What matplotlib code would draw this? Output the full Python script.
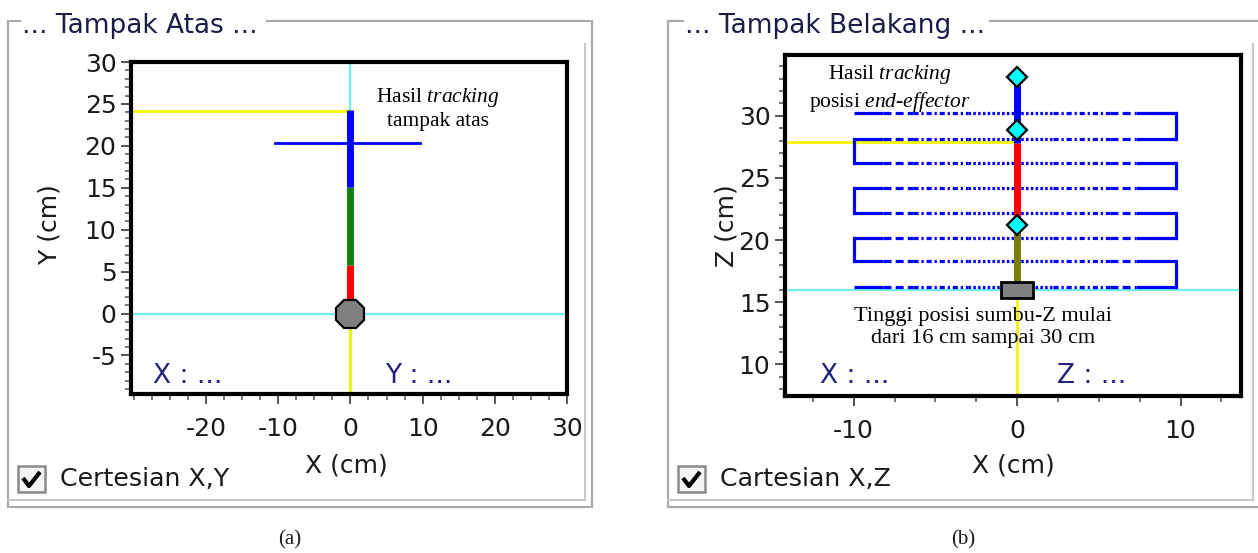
import numpy as np
import matplotlib
matplotlib.use("Agg")
import matplotlib.pyplot as plt
from matplotlib.patches import Rectangle
from matplotlib.ticker import MultipleLocator

plt.rcParams['font.family'] = ['DejaVu Sans']
plt.rcParams['axes.unicode_minus'] = False
plt.rcParams['mathtext.fontset'] = 'custom'
plt.rcParams['mathtext.rm'] = 'Liberation Serif'
plt.rcParams['mathtext.it'] = 'Liberation Serif:italic'

# ------------------------------------------------------------------ data
# (a) Tampak Atas  (top view, X-Y)
top_xticks = [-20, -10, 0, 10, 20, 30]
top_yticks = [-5, 0, 5, 10, 15, 20, 25, 30]
top_xlim = (-30.4, 30.0)
top_ylim = (-9.6, 30.0)
top_base = (0.0, 0.0)
top_link_y = [0.0, 5.8, 15.1, 24.3]          # link segment boundaries along Y
top_cursor_y = 24.1
top_cross_y = 20.3
top_cross_x = [-10.5, 9.7]

# (b) Tampak Belakang (back view, X-Z)
back_xticks = [-10, 0, 10]
back_yticks = [10, 15, 20, 25, 30]
back_xlim = (-14.2, 13.7)
back_ylim = (7.45, 34.9)
back_base = (0.0, 16.0)
back_link_z = [16.0, 21.2, 27.8, 33.1]
back_joint_z = [33.1, 28.9, 21.2]
back_cursor_z = 27.9
raster_z = [30.2, 28.1, 26.2, 24.2, 22.2, 20.2, 18.3, 16.2]
raster_x = [-10.0, 9.7]

# ------------------------------------------------------------------ styles
W, H, DPI = 1258, 553, 100
TXT = '#1a1a1a'
NAVY = '#22227a'
CYAN = '#74eef6'
YELLOW = '#f4f400'
BLUE = '#0000ff'
SERIF = 'Liberation Serif'

def px_rect(l, t, r, b):
    return [l / W, 1 - b / H, (r - l) / W, (b - t) / H]

fig = plt.figure(figsize=(W / DPI, H / DPI), dpi=DPI)
fig.patch.set_facecolor('white')

bg = fig.add_axes([0, 0, 1, 1], zorder=-10)
bg.set_xlim(0, W)
bg.set_ylim(H, 0)
bg.axis('off')

def frame(l, t, r, b, gap, inner_r, title):
    c = '#a8a8a8'
    bg.plot([l, gap[0]], [t, t], color=c, lw=1.5)
    bg.plot([gap[1], r], [t, t], color=c, lw=1.5)
    bg.plot([l, l], [t, b], color=c, lw=1.5)
    bg.plot([r, r], [t, b], color=c, lw=1.5)
    bg.plot([l, r], [b, b], color=c, lw=1.5)
    bg.plot([inner_r, inner_r], [44, b - 7], color='#c8c8c8', lw=1.5)
    bg.plot([l, inner_r], [b - 7, b - 7], color='#c8c8c8', lw=1.5)
    bg.text(gap[0] + 2, 33, title, fontsize=19, color='#1c1c48',
            ha='left', va='baseline')

frame(8, 21, 592, 507, (20, 267), 585, '... Tampak Atas ...')
frame(668, 21, 1262, 507, (683, 990), 1253, '... Tampak Belakang ...')

def checkbox(x0, y0, label):
    bg.add_patch(Rectangle((x0, y0), 27, 26, facecolor='#f4f4f4',
                           edgecolor='#8a8a8a', lw=1.8))
    bg.plot([x0 + 5, x0 + 11, x0 + 22], [y0 + 12, y0 + 20, y0 + 6],
            color='black', lw=3, solid_capstyle='butt')
    bg.text(x0 + 42, y0 + 13, label, fontsize=18.2, color=TXT,
            ha='left', va='center')

checkbox(18, 466, 'Certesian X,Y')
checkbox(678, 466, 'Cartesian X,Z')

bg.text(290, 540, '(a)', family=SERIF, fontsize=15, color=TXT,
        ha='center', va='center')
bg.text(963, 540, '(b)', family=SERIF, fontsize=15, color=TXT,
        ha='center', va='center')

def style_axes(ax, xticks, yticks, xlim, ylim):
    ax.set_xlim(*xlim)
    ax.set_ylim(*ylim)
    ax.set_xticks(xticks)
    ax.set_yticks(yticks)
    ax.xaxis.set_minor_locator(MultipleLocator(2.5))
    ax.yaxis.set_minor_locator(MultipleLocator(1))
    for s in ax.spines.values():
        s.set_linewidth(3)
        s.set_color('black')
    ax.tick_params(which='major', direction='out', length=7.5, width=1.4,
                   color='#555555', labelsize=18, labelcolor=TXT)
    ax.tick_params(which='minor', direction='out', length=4, width=1.4,
                   color='#777777')
    ax.tick_params(axis='x', which='major', pad=9)
    ax.tick_params(axis='y', which='major', pad=3)

# ------------------------------------------------------------------ (a)
ax1 = fig.add_axes(px_rect(131, 62, 567, 394))
style_axes(ax1, top_xticks, top_yticks, top_xlim, top_ylim)
bx, by = top_base
ax1.axhline(by, color=CYAN, lw=1.6, zorder=1)
ax1.axvline(bx, color=CYAN, lw=1.6, zorder=1)
ax1.plot([bx, bx], [top_ylim[0], by], color=YELLOW, lw=2, zorder=1.5)
ax1.plot([top_xlim[0], bx], [top_cursor_y, top_cursor_y], color=YELLOW,
         lw=2, zorder=1.5)
ax1.plot(top_cross_x, [top_cross_y, top_cross_y], color=BLUE, lw=2, zorder=2)
for (y0, y1), c in zip(zip(top_link_y[:-1], top_link_y[1:]),
                       ['#ff0000', '#118011', BLUE]):
    ax1.plot([bx, bx], [y0, y1], color=c, lw=5, solid_capstyle='butt',
             zorder=3)
ax1.plot([bx], [by], marker='8', ms=22, mfc='#808080', mec='black', mew=1.6,
         zorder=4)
ax1.text(12.1, 24.45, 'Hasil $\\mathit{tracking}$\ntampak atas',
         family=SERIF, ha='center', va='center', multialignment='center',
         fontsize=15.5, color='black', zorder=5)
ax1.text(0.05, 0.033, 'X : ...', transform=ax1.transAxes, fontsize=19,
         color=NAVY, ha='left', va='baseline')
ax1.text(0.583, 0.033, 'Y : ...', transform=ax1.transAxes, fontsize=19,
         color=NAVY, ha='left', va='baseline')
ax1.set_xlabel('X (cm)', fontsize=18, color=TXT)
ax1.set_ylabel('Y (cm)', fontsize=18, color=TXT)
ax1.xaxis.set_label_coords(0.495, -0.179)
ax1.yaxis.set_label_coords(-0.16, 0.51)

# ------------------------------------------------------------------ (b)
ax2 = fig.add_axes(px_rect(785, 55, 1241, 396))
style_axes(ax2, back_xticks, back_yticks, back_xlim, back_ylim)
bx, bz = back_base
ax2.axhline(bz, color=CYAN, lw=1.6, zorder=1)
ax2.plot([bx, bx], [back_ylim[0], bz], color=YELLOW, lw=2, zorder=1.5)
ax2.plot([back_xlim[0], bx], [back_cursor_z, back_cursor_z], color=YELLOW,
         lw=2, zorder=1.5)

# raster path: line-style zones along each row (fractions of row length)
zone_frac = [0.0, 0.091, 0.183, 0.355, 0.619, 0.797, 0.878, 1.0]
zone_style = ['solid', (0, (2.5, 1.3)), (0, (1.6, 0.9, 0.7, 0.9)),
              (0, (0.8, 0.7)), (0, (1.6, 0.9, 0.7, 0.9)), (0, (2.5, 1.3)),
              'solid']
zx = np.interp(zone_frac, [0, 1], raster_x)
RLW = 2.3
for z in raster_z:
    for i, ls in enumerate(zone_style):
        ax2.plot([zx[i], zx[i + 1]], [z, z], color=BLUE, lw=RLW, ls=ls,
                 dash_capstyle='butt', solid_capstyle='butt', zorder=2)
for i in range(len(raster_z) - 1):
    xe = raster_x[1] if i % 2 == 0 else raster_x[0]
    ax2.plot([xe, xe], [raster_z[i], raster_z[i + 1]], color=BLUE, lw=RLW,
             solid_capstyle='projecting', zorder=2)

for (z0, z1), c in zip(zip(back_link_z[:-1], back_link_z[1:]),
                       ['#7c7c00', '#ff0000', BLUE]):
    ax2.plot([bx, bx], [z0, z1], color=c, lw=5, solid_capstyle='butt',
             zorder=3)
ax2.add_patch(Rectangle((bx - 1.0, bz - 0.7), 2.0, 1.3, facecolor='#808080',
                        edgecolor='black', lw=2, zorder=4))
ax2.plot([bx] * len(back_joint_z), back_joint_z, ls='none', marker='D',
         ms=10, mfc='#00ffff', mec='black', mew=1.6, zorder=5)
ax2.text(-7.8, 32.2,
         'Hasil $\\mathit{tracking}$\nposisi $\\mathit{end}$-$\\mathit{effector}$',
         family=SERIF, ha='center', va='center', multialignment='center',
         fontsize=15.5, color='black', zorder=6)
ax2.text(-2.1, 12.97, 'Tinggi posisi sumbu-Z mulai\ndari 16 cm sampai 30 cm',
         family=SERIF, ha='center', va='center',
         multialignment='center', fontsize=16, color='black', zorder=6)
ax2.text(0.077, 0.038, 'X : ...', transform=ax2.transAxes, fontsize=19,
         color=NAVY, ha='left', va='baseline')
ax2.text(0.596, 0.038, 'Z : ...', transform=ax2.transAxes, fontsize=19,
         color=NAVY, ha='left', va='baseline')
ax2.set_xlabel('X (cm)', fontsize=18, color=TXT)
ax2.set_ylabel('Z (cm)', fontsize=18, color=TXT)
ax2.xaxis.set_label_coords(0.5, -0.169)
ax2.yaxis.set_label_coords(-0.103, 0.50)

fig.savefig('out.png', dpi=DPI)
